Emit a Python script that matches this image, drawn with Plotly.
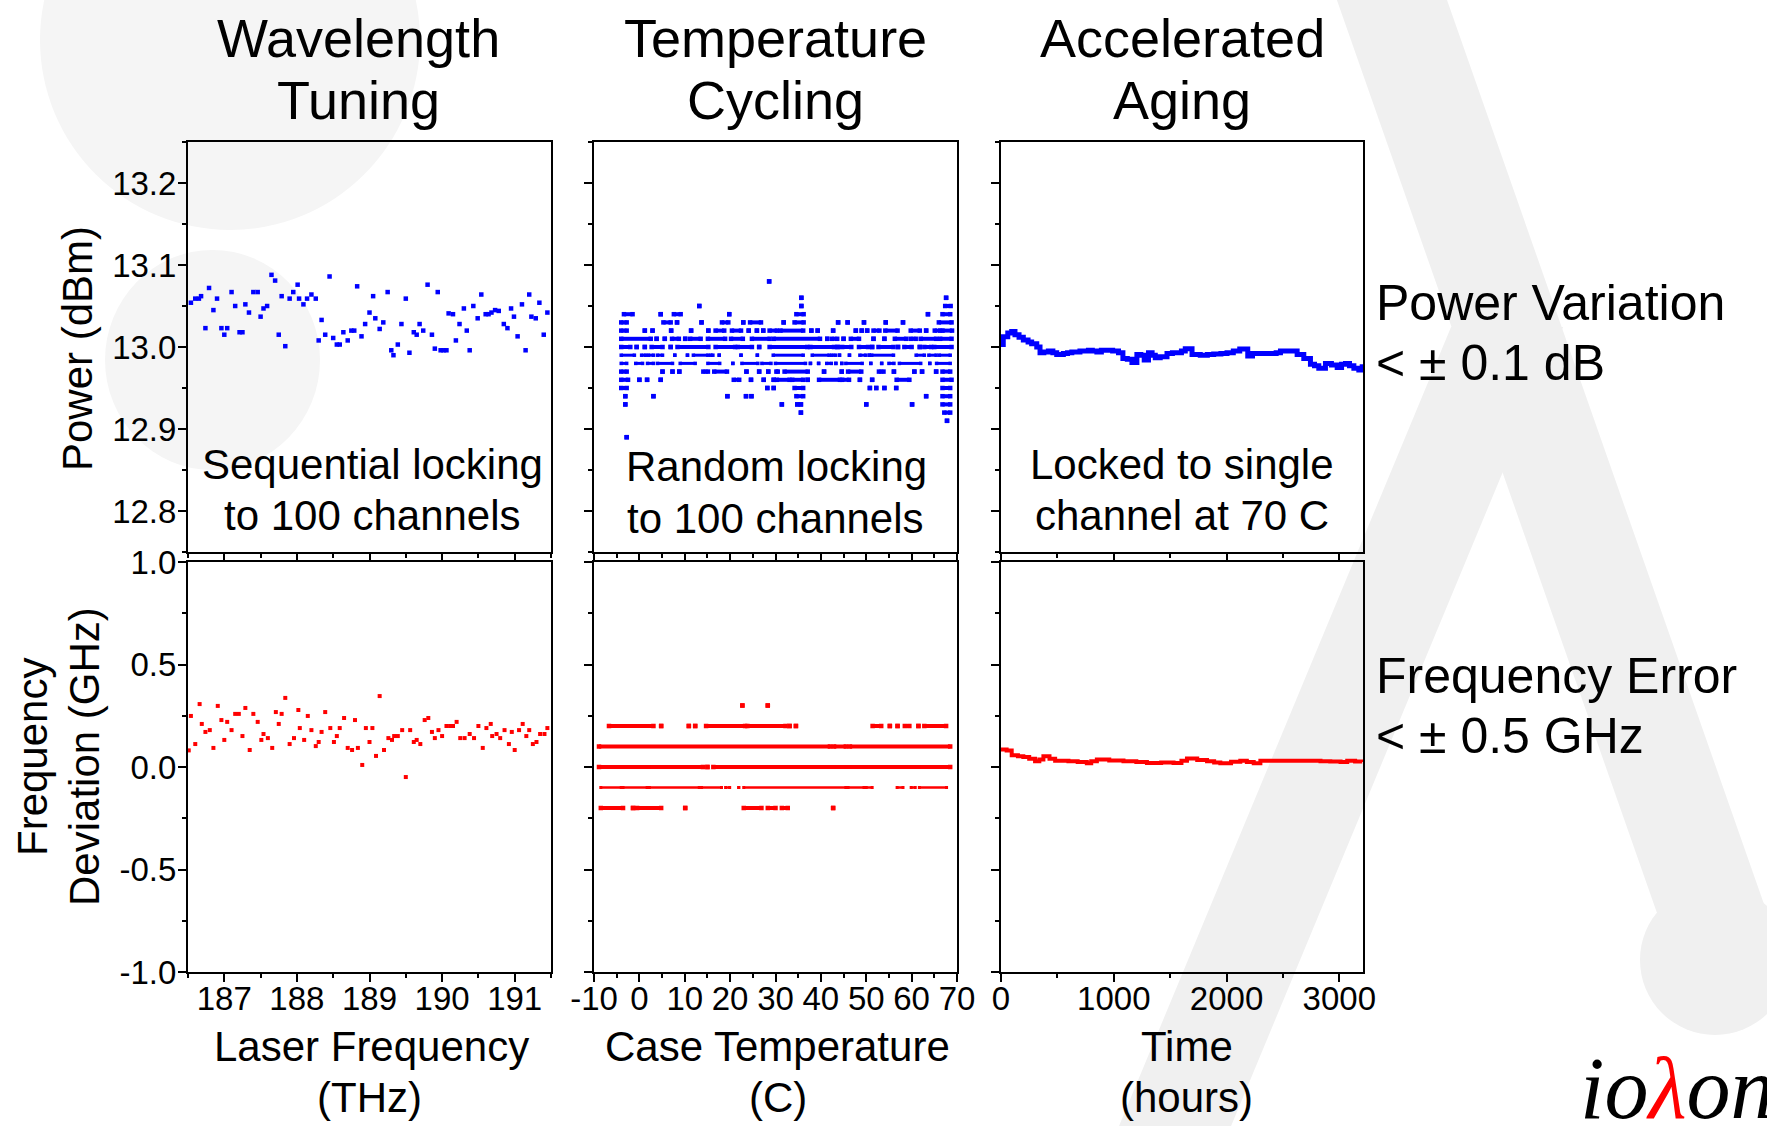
import plotly.graph_objects as go

W, H = 1767, 1126
FONT = "Liberation Sans, Arial, sans-serif"

# ---------------- data ----------------
# Wavelength tuning: sequential locking to 100 channels
wt_freq = [186.54, 186.60, 186.65, 186.68, 186.74, 186.79, 186.85, 186.90, 186.96, 187.00,
           187.04, 187.10, 187.15, 187.21, 187.25, 187.29, 187.34, 187.40, 187.46, 187.50,
           187.54, 187.59, 187.65, 187.70, 187.75, 187.79, 187.84, 187.90, 187.95, 188.01,
           188.03, 188.09, 188.14, 188.20, 188.26, 188.30, 188.34, 188.39, 188.45, 188.50,
           188.55, 188.59, 188.64, 188.70, 188.75, 188.79, 188.83, 188.89, 188.94, 189.00,
           189.05, 189.08, 189.14, 189.19, 189.25, 189.30, 189.33, 189.39, 189.44, 189.50,
           189.55, 189.61, 189.65, 189.69, 189.74, 189.80, 189.86, 189.90, 189.94, 189.98,
           190.02, 190.06, 190.09, 190.15, 190.19, 190.24, 190.30, 190.34, 190.38, 190.43,
           190.49, 190.54, 190.60, 190.64, 190.68, 190.73, 190.78, 190.85, 190.90, 190.95,
           190.99, 191.04, 191.10, 191.15, 191.20, 191.23, 191.29, 191.34, 191.40, 191.45]
wt_power = [13.054, 13.059, 13.059, 13.062, 13.023, 13.072, 13.045, 13.059, 13.023, 13.015,
            13.023, 13.067, 13.050, 13.018, 13.018, 13.052, 13.042, 13.067, 13.067, 13.037,
            13.047, 13.050, 13.088, 13.081, 13.015, 13.062, 13.001, 13.059, 13.067, 13.076,
            13.059, 13.052, 13.059, 13.064, 13.059, 13.008, 13.033, 13.015, 13.086, 13.011,
            13.003, 13.003, 13.018, 13.008, 13.020, 13.020, 13.074, 13.013, 13.028, 13.042,
            13.062, 13.035, 13.022, 13.030, 13.067, 12.996, 12.990, 13.003, 13.028, 13.059,
            12.993, 13.018, 13.015, 13.028, 13.020, 13.076, 13.015, 12.998, 13.067, 12.996,
            12.996, 12.996, 13.041, 13.040, 13.008, 13.028, 13.047, 13.020, 12.996, 13.050,
            13.035, 13.064, 13.040, 13.040, 13.042, 13.045, 13.044, 13.028, 13.023, 13.047,
            13.037, 13.013, 13.052, 12.996, 13.064, 13.037, 13.035, 13.054, 13.015, 13.042]

wt_freq_f = [186.51, 186.54, 186.60, 186.66, 186.69, 186.74, 186.80, 186.85, 186.91, 186.96,
             187.00, 187.04, 187.10, 187.15, 187.20, 187.25, 187.29, 187.35, 187.40, 187.46,
             187.51, 187.54, 187.60, 187.66, 187.71, 187.75, 187.79, 187.84, 187.90, 187.96,
             188.02, 188.04, 188.10, 188.15, 188.20, 188.26, 188.30, 188.34, 188.39, 188.46,
             188.51, 188.55, 188.59, 188.65, 188.70, 188.76, 188.80, 188.84, 188.90, 188.95,
             189.00, 189.04, 189.09, 189.14, 189.20, 189.26, 189.31, 189.34, 189.39, 189.45,
             189.50, 189.56, 189.61, 189.65, 189.70, 189.76, 189.81, 189.86, 189.90, 189.95,
             190.00, 190.06, 190.11, 190.15, 190.20, 190.25, 190.31, 190.38, 190.44, 190.50,
             190.56, 190.61, 190.67, 190.69, 190.75, 190.80, 190.86, 190.92, 190.96, 191.00,
             191.06, 191.11, 191.16, 191.20, 191.25, 191.30, 191.35, 191.41, 191.45]
wt_fdev = [0.081, 0.249, 0.112, 0.307, 0.210, 0.171, 0.180, 0.093, 0.298, 0.229,
           0.132, 0.220, 0.180, 0.259, 0.259, 0.151, 0.288, 0.083, 0.259, 0.220,
           0.132, 0.161, 0.141, 0.093, 0.268, 0.210, 0.259, 0.337, 0.112, 0.141,
           0.278, 0.190, 0.132, 0.249, 0.180, 0.102, 0.122, 0.171, 0.268, 0.190,
           0.122, 0.151, 0.190, 0.239, 0.093, 0.083, 0.229, 0.093, 0.010, 0.190,
           0.122, 0.190, 0.054, 0.346, 0.083, 0.141, 0.132, 0.151, 0.151, 0.180,
           -0.049, 0.180, 0.122, 0.132, 0.112, 0.229, 0.239, 0.171, 0.141, 0.180,
           0.151, 0.200, 0.200, 0.200, 0.220, 0.141, 0.141, 0.161, 0.141, 0.200,
           0.093, 0.190, 0.210, 0.151, 0.161, 0.141, 0.180, 0.112, 0.171, 0.083,
           0.180, 0.210, 0.151, 0.180, 0.112, 0.122, 0.161, 0.161, 0.190]

# Temperature cycling: quantised readings; each level lists observed
# temperature spans [start, end] (start == end for an isolated reading)
tc_power_levels = [13.08, 13.06, 13.05, 13.04, 13.03, 13.02, 13.01, 13.00,
                   12.99, 12.98, 12.97, 12.96, 12.95, 12.94, 12.93, 12.92, 12.91, 12.89]
tc_power_spans = [
    [(28.6, 28.6)],
    [(35.7, 35.7), (67.6, 67.6)],
    [(13.2, 13.2), (35.7, 35.7), (67.4, 68.6)],
    [(-3.4, -1.5), (4.7, 4.7), (7.6, 9.1), (19.8, 19.8), (34.6, 36.2), (63.6, 63.6), (66.8, 68.5)],
    [(-4.0, -2.8), (5.3, 6.9), (8.3, 8.3), (13.7, 13.7), (18.2, 19.6), (22.9, 22.9), (24.4, 26.8),
     (31.8, 31.8), (34.2, 36.2), (43.8, 43.8), (45.9, 45.9), (49.5, 49.5), (54.3, 54.3),
     (58.1, 58.1), (66.0, 68.8)],
    [(-4.0, -2.8), (1.2, 1.2), (2.9, 2.9), (7.0, 7.0), (11.4, 11.4), (15.2, 15.2), (16.8, 18.7),
     (20.4, 22.4), (24.1, 24.1), (25.9, 25.9), (27.3, 27.3), (28.7, 30.3), (31.1, 36.1),
     (37.9, 37.9), (39.3, 39.3), (42.7, 42.7), (47.7, 47.7), (49.0, 49.0), (50.2, 50.2),
     (51.6, 52.9), (54.2, 56.9), (59.8, 61.8), (63.2, 63.2), (65.1, 66.3), (66.8, 68.9)],
    [(-4.0, 2.5), (3.8, 3.8), (5.6, 5.6), (7.2, 8.7), (10.1, 10.1), (11.2, 13.5), (15.1, 18.9),
     (20.2, 22.8), (24.8, 28.7), (29.6, 39.8), (41.4, 41.4), (42.5, 43.6), (45.0, 45.0),
     (46.6, 48.4), (51.6, 51.6), (54.0, 54.0), (56.3, 58.8), (59.8, 60.9), (62.0, 65.4),
     (66.3, 68.8)],
    [(-4.0, -2.0), (-0.6, -0.6), (1.2, 1.2), (2.7, 5.1), (6.9, 6.9), (8.4, 15.2), (16.8, 21.1),
     (21.7, 24.8), (26.4, 26.4), (28.7, 37.0), (37.7, 42.9), (43.7, 43.7), (44.7, 46.7),
     (48.4, 50.4), (51.3, 51.3), (52.7, 56.0), (57.0, 57.0), (58.4, 60.0), (61.8, 61.8),
     (62.8, 64.3), (65.0, 68.8)],
    [(-4.0, -1.1), (0.5, 1.4), (2.0, 3.1), (4.0, 5.1), (7.8, 7.8), (10.6, 10.6), (11.9, 15.1),
     (15.7, 16.2), (17.6, 17.6), (22.4, 22.4), (26.0, 26.0), (29.5, 36.1), (38.1, 41.8),
     (42.4, 43.2), (44.1, 44.1), (46.3, 46.3), (48.6, 49.9), (50.7, 50.7), (51.2, 56.0),
     (61.0, 62.8), (63.8, 65.4), (66.1, 68.5)],
    [(-4.0, -2.8), (-0.8, 0.7), (1.8, 3.1), (4.0, 7.3), (9.0, 12.3), (15.1, 17.7), (20.6, 20.6),
     (22.6, 26.1), (27.0, 29.0), (30.0, 36.6), (37.7, 37.7), (39.5, 39.5), (41.3, 42.3),
     (43.3, 43.3), (44.6, 44.6), (45.5, 49.1), (51.0, 51.0), (53.4, 53.4), (55.0, 56.1),
     (57.3, 62.0), (64.0, 64.0), (65.5, 68.5)],
    [(-4.0, -2.8), (5.1, 5.1), (7.3, 7.3), (8.8, 8.8), (14.1, 15.1), (16.5, 19.3), (23.6, 23.6),
     (26.4, 26.4), (28.4, 28.4), (30.2, 30.5), (32.0, 37.1), (40.7, 40.7), (44.6, 44.6),
     (46.0, 48.9), (52.8, 53.8), (56.1, 56.1), (60.6, 60.6), (62.3, 62.3), (65.4, 65.4),
     (66.8, 68.5)],
    [(-4.0, -2.5), (0.0, 0.0), (1.7, 1.7), (4.7, 4.7), (20.8, 22.0), (24.6, 24.6), (27.4, 27.4),
     (29.6, 29.6), (30.3, 33.1), (33.7, 36.1), (37.1, 37.1), (39.6, 44.2), (44.7, 46.2),
     (48.6, 48.6), (51.3, 51.3), (56.7, 59.5), (66.8, 68.8)],
    [(-4.0, -2.8), (28.2, 28.2), (29.6, 29.6), (34.2, 36.1), (50.8, 50.8), (52.2, 52.2),
     (54.0, 54.0), (56.6, 56.6), (66.8, 68.5)],
    [(-3.1, -3.1), (3.1, 3.1), (19.4, 19.4), (23.5, 23.5), (24.7, 24.7), (34.6, 36.1),
     (63.2, 63.2), (66.8, 68.5)],
    [(-3.1, -3.1), (31.4, 31.4), (34.8, 34.8), (35.6, 35.6), (50.0, 50.0), (60.1, 60.1),
     (66.8, 68.5)],
    [(35.6, 35.6), (67.2, 68.5)],
    [(67.8, 67.8)],
    [(-2.8, -2.8)],
]

tc_fdev_levels = [0.3, 0.2, 0.1, 0.0, -0.1, -0.2]
tc_fdev_spans = [
    [(22.7, 22.7), (28.3, 28.3)],
    [(-6.7, 3.1), (4.8, 4.8), (10.9, 10.9), (12.3, 12.3), (14.7, 23.3), (23.8, 32.2),
     (33.1, 33.1), (34.5, 34.5), (51.4, 53.3), (55.2, 55.2), (56.9, 56.9), (58.5, 59.5),
     (61.5, 61.5), (62.8, 67.6)],
    [(-8.9, 42.0), (42.9, 45.5), (46.4, 68.5)],
    [(-8.9, 14.0), (15.0, 15.0), (16.3, 68.5)],
    [(-8.5, -4.0), (-3.6, 1.7), (2.2, 13.2), (13.7, 18.1), (19.0, 19.9), (21.9, 21.9),
     (23.0, 45.5), (46.0, 49.5), (50.0, 51.3), (56.8, 58.1), (59.9, 60.8), (61.7, 67.7)],
    [(-8.5, -3.6), (-1.4, -1.4), (-0.5, 4.8), (10.1, 10.1), (23.0, 26.9), (28.3, 30.0),
     (31.4, 32.7), (42.7, 42.7)],
]

# Accelerated aging: single channel at 70 C
aa_time_p = [0, 20, 60, 95, 124, 160, 198, 240, 272, 317, 346, 380, 420, 460, 494, 553, 590,
             628, 700, 775, 810, 850, 890, 932, 990, 1042, 1081, 1120, 1161, 1205, 1240, 1270,
             1308, 1340, 1368, 1412, 1472, 1520, 1560, 1600, 1634, 1694, 1767, 1830, 1886,
             1950, 2004, 2060, 2117, 2188, 2230, 2271, 2330, 2389, 2440, 2478, 2530, 2582,
             2626, 2685, 2744, 2780, 2818, 2877, 2930, 2981, 3020, 3055, 3090, 3129, 3173, 3203]
aa_power = [13.003, 13.0125, 13.017, 13.019, 13.015, 13.012, 13.0085, 13.006, 13.004, 13.000,
            12.993, 12.994, 12.995, 12.993, 12.991, 12.992, 12.993, 12.994, 12.995, 12.996,
            12.995, 12.994, 12.996, 12.996, 12.995, 12.993, 12.986, 12.985, 12.981, 12.991,
            12.990, 12.984, 12.993, 12.990, 12.987, 12.988, 12.992, 12.993, 12.993, 12.995,
            12.998, 12.991, 12.990, 12.991, 12.9915, 12.992, 12.993, 12.995, 12.9975, 12.989,
            12.992, 12.992, 12.992, 12.992, 12.993, 12.995, 12.995, 12.995, 12.991, 12.986,
            12.979, 12.977, 12.974, 12.980, 12.978, 12.975, 12.979, 12.980, 12.977, 12.974,
            12.972, 12.979]

aa_time_f = [0, 50, 95, 150, 198, 250, 302, 340, 376, 430, 480, 540, 598, 680, 761, 800, 850,
             960, 1086, 1200, 1294, 1420, 1530, 1600, 1649, 1740, 1827, 1890, 1945, 2040, 2122,
             2180, 2241, 2300, 2360, 2500, 2626, 2730, 2833, 2920, 3011, 3070, 3140, 3203]
aa_fdev = [0.085, 0.080, 0.057, 0.052, 0.049, 0.040, 0.028, 0.036, 0.052, 0.040, 0.031,
           0.030, 0.028, 0.024, 0.018, 0.028, 0.036, 0.032, 0.028, 0.024, 0.020, 0.022,
           0.020, 0.030, 0.041, 0.034, 0.028, 0.022, 0.018, 0.026, 0.031, 0.024, 0.018,
           0.030, 0.031, 0.031, 0.031, 0.030, 0.028, 0.027, 0.024, 0.031, 0.027, 0.024]

# tick labels
power_ticks = [12.8, 12.9, 13.0, 13.1, 13.2]
power_ticktext = ["12.8", "12.9", "13.0", "13.1", "13.2"]
fdev_ticks = [-1.0, -0.5, 0.0, 0.5, 1.0]
fdev_ticktext = ["-1.0", "-0.5", "0.0", "0.5", "1.0"]
freq_ticks = [187, 188, 189, 190, 191]
freq_ticktext = ["187", "188", "189", "190", "191"]
temp_ticks = [-10, 0, 10, 20, 30, 40, 50, 60, 70]
temp_ticktext = ["-10", "0", "10", "20", "30", "40", "50", "60", "70"]
time_ticks = [0, 1000, 2000, 3000]
time_ticktext = ["0", "1000", "2000", "3000"]

BLUE = "#0000ff"
RED = "#ff0000"

fig = go.Figure()

# ---- top-left / bottom-left scatter ----
fig.add_trace(go.Scatter(x=wt_freq, y=wt_power, mode="markers", xaxis="x", yaxis="y",
                         marker=dict(symbol="square", size=4.5, color=BLUE, line=dict(width=0))))
fig.add_trace(go.Scatter(x=wt_freq_f, y=wt_fdev, mode="markers", xaxis="x4", yaxis="y4",
                         marker=dict(symbol="square", size=4, color=RED, line=dict(width=0))))


def span_trace(levels, spans, color, xa, ya, thin_levels, thin_w, w):
    for lv, sp in zip(levels, spans):
        xs, ys = [], []
        for a, b in sp:
            xs += [a, b, None]
            ys += [lv, lv, None]
        lw = thin_w if lv in thin_levels else w
        fig.add_trace(go.Scatter(x=xs, y=ys, mode="lines+markers", xaxis=xa, yaxis=ya,
                                 line=dict(color=color, width=lw),
                                 marker=dict(symbol="square", size=lw + 0.5, color=color,
                                             line=dict(width=0))))


span_trace(tc_power_levels, tc_power_spans, BLUE, "x2", "y2", {12.99, 12.98}, 3, 4)
span_trace(tc_fdev_levels, tc_fdev_spans, RED, "x5", "y5", {-0.1}, 2.5, 4)

# ---- aging ----
fig.add_trace(go.Scatter(x=aa_time_p, y=aa_power, mode="lines", xaxis="x3", yaxis="y3",
                         line=dict(color=BLUE, width=5, shape="hv")))
fig.add_trace(go.Scatter(x=aa_time_f, y=aa_fdev, mode="lines", xaxis="x6", yaxis="y6",
                         line=dict(color=RED, width=4, shape="hv")))


# ---- axes ----
def px_x(x):
    return x / W


def px_y(y):
    return 1 - y / H


xdom = [(188, 551), (594, 957), (1001, 1363)]
ydom_top = (142, 552)
ydom_bot = (562, 972)

common = dict(showline=True, linecolor="black", linewidth=2, mirror=True,
              ticks="outside", ticklen=8, tickwidth=2, tickcolor="black",
              showgrid=False, zeroline=False, automargin=False,
              tickfont=dict(family=FONT, size=33, color="black"))


def minor(dt, t0):
    return dict(ticks="outside", ticklen=4, tickwidth=2, tickcolor="black",
                dtick=dt, tick0=t0, showgrid=False)


xspecs = [
    ([186.5, 191.5], freq_ticks, freq_ticktext, minor(0.5, 186.5)),
    ([-10, 70], temp_ticks, temp_ticktext, minor(5, -10)),
    ([0, 3210], time_ticks, time_ticktext, minor(500, 0)),
]

layout = {}
for i in range(3):
    rng, tv, tt, mn = xspecs[i]
    dom = [px_x(xdom[i][0]), px_x(xdom[i][1])]
    top_name = "xaxis" if i == 0 else "xaxis%d" % (i + 1)
    bot_name = "xaxis%d" % (i + 4)
    layout[top_name] = dict(common, domain=dom, range=rng, tickvals=tv, ticktext=tt,
                            showticklabels=False, minor=mn,
                            anchor="y" if i == 0 else "y%d" % (i + 1))
    layout[bot_name] = dict(common, domain=dom, range=rng, tickvals=tv, ticktext=tt,
                            showticklabels=True, minor=mn, anchor="y%d" % (i + 4),
                            ticklabelstandoff=-12)
    ytop_name = "yaxis" if i == 0 else "yaxis%d" % (i + 1)
    ybot_name = "yaxis%d" % (i + 4)
    layout[ytop_name] = dict(common, domain=[px_y(ydom_top[1]), px_y(ydom_top[0])],
                             range=[12.75, 13.25], tickvals=power_ticks, ticktext=power_ticktext,
                             showticklabels=(i == 0), minor=minor(0.05, 12.75),
                             anchor="x" if i == 0 else "x%d" % (i + 1), ticklabelstandoff=-5)
    layout[ybot_name] = dict(common, domain=[px_y(ydom_bot[1]), px_y(ydom_bot[0])],
                             range=[-1, 1], tickvals=fdev_ticks, ticktext=fdev_ticktext,
                             showticklabels=(i == 0), minor=minor(0.25, -1),
                             anchor="x%d" % (i + 4), ticklabelstandoff=-5)

fig.update_layout(**layout)


# ---- faint background watermark (slide decoration) ----
def path(points):
    return "M " + " L ".join("%.4f,%.4f" % (px_x(x), px_y(y)) for x, y in points) + " Z"


WM = "#f0f0f0"
shapes = [
    dict(type="circle", xref="paper", yref="paper", layer="below",
         x0=px_x(40), x1=px_x(420), y0=px_y(230), y1=px_y(-150),
         fillcolor="#f5f5f5", line=dict(width=0)),
    dict(type="circle", xref="paper", yref="paper", layer="below",
         x0=px_x(105), x1=px_x(320), y0=px_y(470), y1=px_y(250),
         fillcolor="#f5f5f5", line=dict(width=0)),
    # long stroke of the lambda
    dict(type="path", xref="paper", yref="paper", layer="below",
         path=path([(1337, 0), (1447, 0), (1780, 950), (1670, 950)]),
         fillcolor=WM, line=dict(width=0)),
    dict(type="circle", xref="paper", yref="paper", layer="below",
         x0=px_x(1640), x1=px_x(1790), y0=px_y(1035), y1=px_y(885),
         fillcolor=WM, line=dict(width=0)),
    # short leg of the lambda
    dict(type="path", xref="paper", yref="paper", layer="below",
         path=path([(1119, 1126), (1231, 1126), (1563, 327), (1451, 327)]),
         fillcolor=WM, line=dict(width=0)),
]

# ---- text ----
ann = []


def txt(text, x, y, size, xanchor="center", angle=0, color="black", family=FONT):
    ann.append(dict(text=text, x=px_x(x), y=px_y(y), xref="paper", yref="paper",
                    xanchor=xanchor, yanchor="middle", showarrow=False, textangle=angle,
                    font=dict(family=family, size=size, color=color)))


# column titles
for (l1, l2, cx) in [("Wavelength", "Tuning", 358), ("Temperature", "Cycling", 775),
                     ("Accelerated", "Aging", 1182)]:
    txt(l1, cx, 38, 54)
    txt(l2, cx, 100, 54)

# in-panel notes
txt("Sequential locking", 372, 465, 42)
txt("to 100 channels", 372, 515, 42)
txt("Random locking", 776, 467, 42)
txt("to 100 channels", 775, 518, 42)
txt("Locked to single", 1182, 465, 42)
txt("channel at 70 C", 1182, 515, 42)

# axis titles
txt("Power (dBm)", 77, 349, 42, angle=-90)
txt("Frequency", 32, 757, 42, angle=-90)
txt("Deviation (GHz)", 84, 757, 42, angle=-90)
txt("Laser Frequency", 371, 1046, 42)
txt("(THz)", 369, 1097, 42)
txt("Case Temperature", 777, 1046, 42)
txt("(C)", 778, 1097, 42)
txt("Time", 1187, 1046, 42)
txt("(hours)", 1186, 1097, 42)

# right-side specs
txt("Power Variation", 1374, 303, 50, xanchor="left")
txt("< \u00b1 0.1 dB", 1374, 363, 50, xanchor="left")
txt("Frequency Error", 1374, 676, 50, xanchor="left")
txt("< \u00b1 0.5 GHz", 1374, 736, 50, xanchor="left")

# logo (cut by the right edge, as in the original slide)
txt("<i>io<span style='color:#ff0000'>\u03bb</span>on</i>", 1578, 1088, 88, xanchor="left",
    family="Liberation Serif, Times New Roman, serif")

fig.update_layout(annotations=ann, shapes=shapes, width=W, height=H, showlegend=False,
                  margin=dict(l=0, r=0, t=0, b=0, pad=0),
                  paper_bgcolor="white", plot_bgcolor="rgba(0,0,0,0)")

fig.write_html("out.html")
